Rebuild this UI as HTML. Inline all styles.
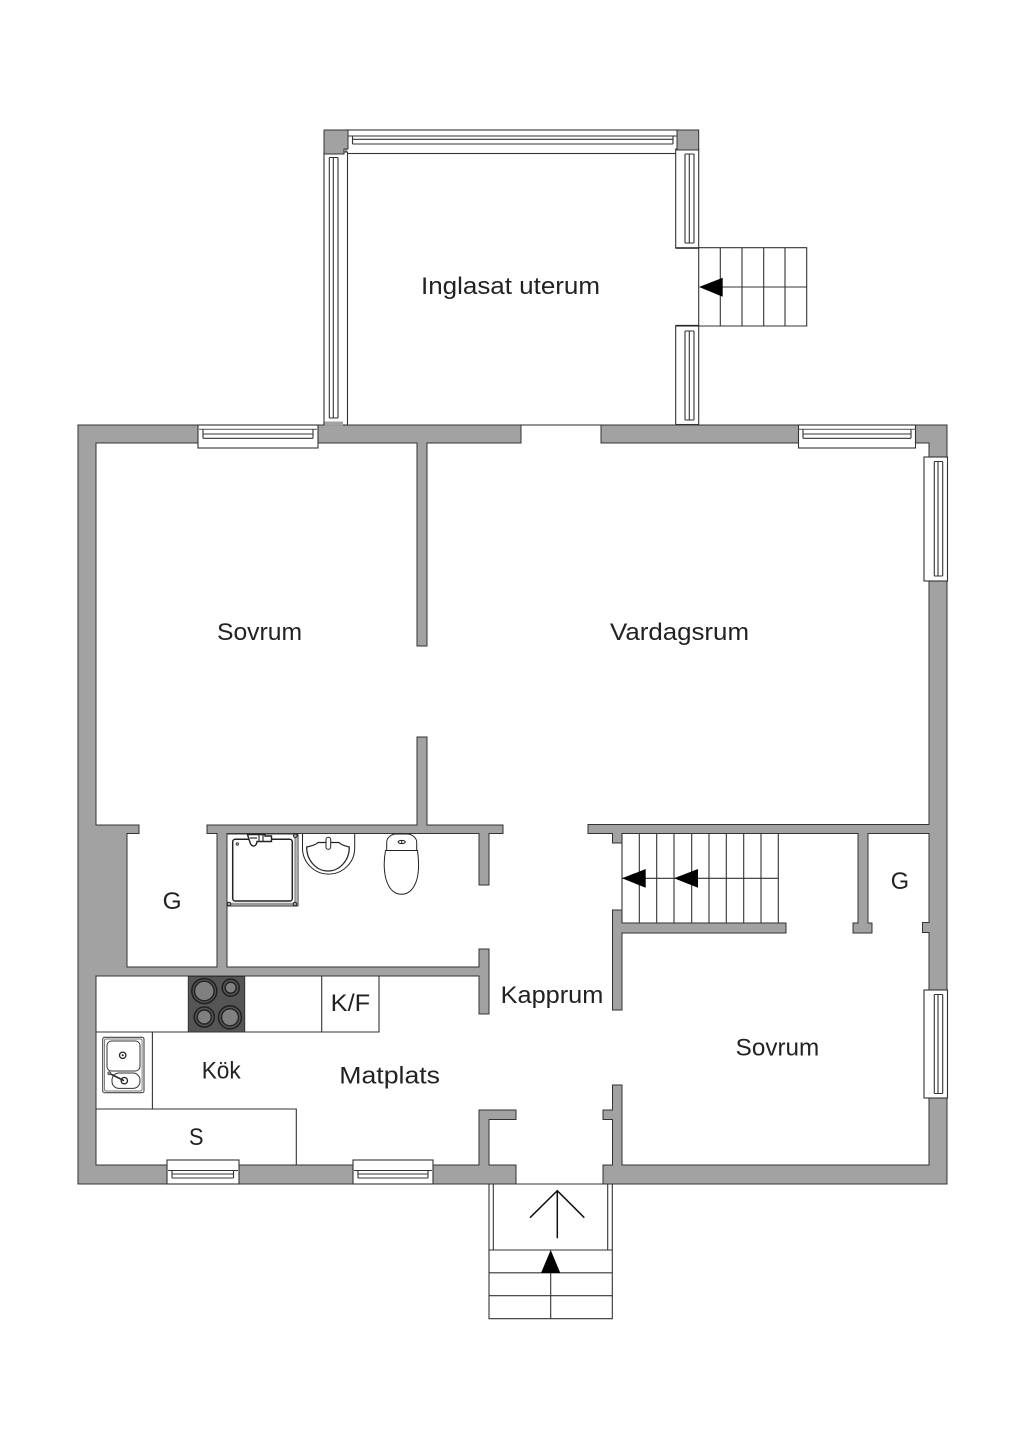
<!DOCTYPE html>
<html><head><meta charset="utf-8"><title>Planritning</title>
<style>
html,body{margin:0;padding:0;background:#fff}
svg{display:block}
text{font-family:"Liberation Sans",sans-serif;font-size:24px;fill:#222}
.w{fill:#a2a2a2;stroke:#333;stroke-width:1;stroke-linejoin:miter}
.l{fill:none;stroke:#333;stroke-width:1.1}
.g{fill:none;stroke:#666;stroke-width:1.1}
.f{fill:#fff;stroke:#333;stroke-width:1.1}
</style></head><body>
<svg width="1024" height="1448" viewBox="0 0 1024 1448" xmlns="http://www.w3.org/2000/svg">
<rect width="1024" height="1448" fill="#fff"/>

<!-- door threshold top -->
<line x1="521" y1="425" x2="601" y2="425" stroke="#555" stroke-width="1.2"/>

<!-- walls -->
<path class="w" d="M78 425H521V443H427V646H417V443H96V825H139V833.5H127V967H217V833.5H207V825H417V737H427V825H503V833.5H489V885H479V833.5H227V967H479V949H489V1014H479V976H96V1165H479V1110H516V1119.5H489V1165H516V1184H78Z"/>
<path class="w" d="M601 425H947V1184H603V1165H612.5V1119.5H603V1110H612.5V1085H622V1165H929V932.5H922.5V922.5H929V833.5H868V923H872V933H853V923H858V833.5H622V843H612.5V833.5H588V824.5H929V443H601Z"/>
<path class="w" d="M612.5 910H622V923H786V933H622V1010H612.5Z"/>

<!-- top windows of house -->
<g>
<rect class="f" x="198" y="425" width="120" height="23"/>
<path class="g" d="M199 429.3H317"/><path class="l" d="M203 434H313M203 438.3H313M203 429.3V438.3M313 429.3V438.3"/>
<rect class="f" x="798.5" y="425" width="117" height="23"/>
<path class="g" d="M799 429.3H915"/><path class="l" d="M803 434H911M803 438.3H911M803 429.3V438.3M911 429.3V438.3"/>
</g>
<!-- right windows -->
<g>
<rect class="f" x="924" y="457" width="23.5" height="124"/>
<path class="l" d="M934.3 461.5V576M938 461.5V576M942.7 461.5V576M934.3 461.5H942.7M934.3 576H942.7"/>
<rect class="f" x="924" y="990" width="23.5" height="108"/>
<path class="l" d="M934.3 994.5V1093.5M938 994.5V1093.5M942.7 994.5V1093.5M934.3 994.5H942.7M934.3 1093.5H942.7"/>
</g>
<!-- bottom windows -->
<g>
<rect class="f" x="167" y="1160" width="72" height="24"/>
<path class="l" d="M168 1170.5H238M172 1174H233.5M172 1178H233.5M172 1170.5V1178M233.5 1170.5V1178"/>
<rect class="f" x="353" y="1160" width="80" height="24"/>
<path class="l" d="M354 1170.5H432M358 1174H428M358 1178H428M358 1170.5V1178M428 1170.5V1178"/>
</g>

<!-- sunroom -->
<g>
<rect class="f" x="346" y="130" width="333" height="23.5"/>
<path class="l" d="M348 136H677M352.5 139.3H673M352.5 144H673M352.5 136V144M673 136V144"/>
<rect class="f" x="324" y="152" width="23.5" height="273"/>
<path class="l" d="M329.3 157.5V418M333.3 157.5V418M338 157.5V418M329.3 157.5H338M329.3 418H338"/>
<rect class="f" x="675.7" y="149" width="23" height="99"/>
<path class="l" d="M685 154V243M689.3 154V243M694 154V243M685 154H694M685 243H694"/>
<rect class="f" x="675.7" y="325.7" width="23" height="98.8"/>
<path class="l" d="M685 331V420M689.3 331V420M694 331V420M685 331H694M685 420H694"/>
<path class="w" d="M324 130H348V149H344V154H324Z"/>
<path class="w" d="M677 130H698.7V150H677Z"/>
<path d="M324.5 425.5V421.5H343V425.5Z" fill="#a2a2a2"/>
<path d="M675.7 248H698.7M675.7 325.7H698.7" stroke="#222" stroke-width="1.6"/>
</g>

<!-- stairs to the sunroom -->
<path class="l" d="M698.7 247.7H806.7V326H698.7ZM720.3 247.7V326M742 247.7V326M763.7 247.7V326M785 247.7V326M720 287H806.7"/>
<path d="M699 287L722.7 277.7V296.7Z" fill="#000"/>

<!-- interior stairs -->
<path class="l" d="M622 834V923M639.3 834V923M656.7 834V923M674 834V923M691.7 834V923M709 834V923M726.3 834V923M743.7 834V923M761 834V923M778.3 834V923M622 878.3H778.3"/>
<path d="M622 878.3L645.7 869V887.7Z" fill="#000"/>
<path d="M674 878.3L698 869V887.7Z" fill="#000"/>

<!-- entrance -->
<path class="l" d="M516 1184H603"/>
<path class="l" d="M489 1184V1250M493.3 1184V1250M607.7 1184V1250M612.3 1184V1250"/>
<path class="l" d="M489 1250H612.3V1318.7H489ZM489 1272.8H612.3M489 1295.7H612.3M550.7 1273V1318.7"/>
<path d="M550.7 1250L560.3 1273H541Z" fill="#000"/>
<path d="M530 1217.7L557.3 1190.7L584.3 1217.7M557.3 1190.7V1238.3" fill="none" stroke="#111" stroke-width="1.5"/>

<!-- kitchen -->
<path class="l" d="M96 1032H379V976M321.7 976V1032M152.4 1032V1109M96 1109H296.3V1165"/>
<rect x="188.3" y="976.5" width="56.4" height="55.5" fill="#555" stroke="#333"/>
<g stroke="#222" stroke-width="1.4" fill="#808080">
<circle cx="204.3" cy="991" r="12.5" fill="#555" stroke="#222" stroke-width="1.6"/><circle cx="204.3" cy="991" r="9.8"/>
<circle cx="230.7" cy="987.7" r="8.5" fill="#555" stroke="#222" stroke-width="1.6"/><circle cx="230.7" cy="987.7" r="5.5"/>
<circle cx="204.3" cy="1017" r="10" fill="#555" stroke="#222" stroke-width="1.6"/><circle cx="204.3" cy="1017" r="7"/>
<circle cx="230" cy="1017.3" r="11.5" fill="#555" stroke="#222" stroke-width="1.6"/><circle cx="230" cy="1017.3" r="8.5"/>
</g>
<!-- sink -->
<g>
<rect x="102.7" y="1037.3" width="41.3" height="55.4" rx="2" fill="#fff" stroke="#444" stroke-width="1.1"/>
<rect x="104.5" y="1039" width="37.6" height="52" rx="1.5" fill="none" stroke="#777" stroke-width="0.9"/>
<rect x="107" y="1041" width="33" height="30" rx="4.5" fill="#fff" stroke="#333" stroke-width="1"/>
<rect x="112" y="1073" width="28" height="15.4" rx="7" fill="#fff" stroke="#333" stroke-width="1"/>
<circle cx="122.7" cy="1055.3" r="3.2" fill="#fff" stroke="#222" stroke-width="1.3"/><circle cx="122.7" cy="1055.3" r="1" fill="#222"/>
<circle cx="124.3" cy="1080.7" r="3.2" fill="#fff" stroke="#222" stroke-width="1.3"/>
<path d="M109.3 1073.3L124 1080.7" stroke="#222" stroke-width="1.6"/>
<circle cx="109.3" cy="1073.3" r="1.6" fill="#888" stroke="#333" stroke-width=".6"/>
</g>

<!-- shower -->
<g>
<rect x="227" y="834" width="71" height="72" fill="#fff" stroke="#333" stroke-width="1"/>
<path d="M227.5 904H295.5V834.5" fill="none" stroke="#999" stroke-width="2.4"/>
<rect x="232.7" y="839.3" width="59.6" height="61.7" rx="2.5" fill="#fff" stroke="#222" stroke-width="1.5"/>
<circle cx="229" cy="904" r="1.8" fill="#aaa" stroke="#222"/>
<circle cx="295" cy="904" r="1.8" fill="#aaa" stroke="#222"/>
<circle cx="295.3" cy="835.7" r="1.8" fill="#aaa" stroke="#222"/>
<circle cx="237.3" cy="844" r="1.3" fill="#999" stroke="#222" stroke-width=".7"/>
<path d="M247.5 834.5L250 842.5Q251.5 846.5 254 846Q256.5 845.5 257 841.5H271.5V836H265V834.5Z" fill="#fff" stroke="#222" stroke-width="1.4"/>
<path d="M250 838H257M259 834.5V841.5M263 834.5V841.5" stroke="#333" stroke-width="1.2"/>
</g>
<!-- basin -->
<g fill="none" stroke="#222" stroke-width="1">
<path d="M302.5 834V848A26 26 0 0 0 354.7 848V834" fill="#fff"/>
<path d="M306.7 847Q316 845 318 842.5H339Q341 845 349.3 847C349.5 860 340 871 328 871S306.5 860 306.7 847Z" fill="#fff" stroke-width="1.2"/>
<rect x="326" y="837.3" width="4.7" height="12" rx="2.2" fill="#fff"/>
</g>
<!-- toilet -->
<g fill="#fff" stroke="#222" stroke-width="1">
<path d="M386.7 850.5V842C387 837 392 834 396 834H407C411 834 416.5 837 416.7 842V850.5Z"/>
<path d="M385.5 850.5C384.5 856 384 862 384.3 868C385 883 391 894.3 401.5 894.3S418 883 418.5 868C418.8 862 418.2 856 417.5 850.5Z"/>
<ellipse cx="401.7" cy="842" rx="3.6" ry="1.6"/>
<line x1="401.7" y1="840.4" x2="401.7" y2="843.6"/>
</g>

<!-- labels -->
<text x="421" y="294" textLength="179" lengthAdjust="spacingAndGlyphs">Inglasat uterum</text>
<text x="217" y="640" textLength="85" lengthAdjust="spacingAndGlyphs">Sovrum</text>
<text x="610" y="640" textLength="139" lengthAdjust="spacingAndGlyphs">Vardagsrum</text>
<text x="162.7" y="909" textLength="19" lengthAdjust="spacingAndGlyphs">G</text>
<text x="890.7" y="889" textLength="18.3" lengthAdjust="spacingAndGlyphs">G</text>
<text x="330.7" y="1011" textLength="39.5" lengthAdjust="spacingAndGlyphs">K/F</text>
<text x="500.7" y="1003" textLength="102.6" lengthAdjust="spacingAndGlyphs">Kapprum</text>
<text x="201.7" y="1078.5" textLength="39" lengthAdjust="spacingAndGlyphs">Kök</text>
<text x="339.3" y="1083.5" textLength="100.7" lengthAdjust="spacingAndGlyphs">Matplats</text>
<text x="735.7" y="1055.5" textLength="83.5" lengthAdjust="spacingAndGlyphs">Sovrum</text>
<text x="189" y="1145" textLength="14.5" lengthAdjust="spacingAndGlyphs">S</text>
</svg>
</body></html>
